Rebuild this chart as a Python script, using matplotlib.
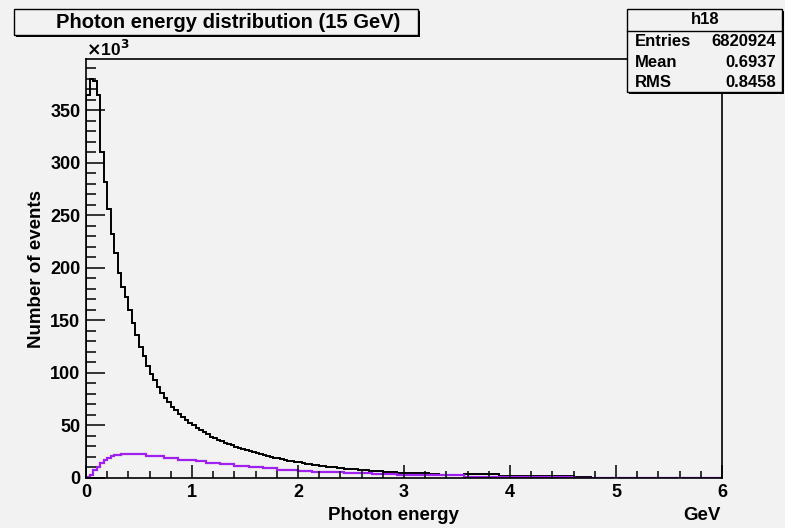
import numpy as np
import matplotlib.pyplot as plt
from matplotlib.patches import Rectangle

plt.rcParams['font.family'] = ['Liberation Sans', 'DejaVu Sans']
plt.rcParams['font.weight'] = 'bold'

# Histogram binning: 180 bins over 0-6 GeV
bin_edges = np.linspace(0, 6, 181)

# Counts per bin in units of 10^3
all_photons = ([365, 380, 378, 365, 310, 282, 256, 232, 214, 195,
                182, 172, 160, 148, 136, 125, 116, 107, 99, 93,
                87, 81, 76, 72, 68, 64.5, 61, 58, 55, 52.5,
                50, 47.5, 45.5, 43.5, 41.5, 39.5, 38, 36.5, 35, 33.6,
                32.3, 31, 29.8, 28.7, 27.6, 26.6, 25.6, 24.6, 23.6, 22.6,
                21.7, 20.8, 20, 19.3, 18.6, 17.9, 17.2, 16.6, 16, 15.4,
                14.8, 14.2, 13.6, 13.1, 12.6, 12.1, 11.7, 11.3, 10.9, 10.5,
                10.1, 9.7, 9.3, 9, 8.7, 8.4, 8.1, 7.8, 7.5, 7.2,
                7, 6.7, 6.5, 6.2, 6, 5.8, 5.6, 5.4, 5.2, 5,
                4.8, 4.7, 4.6, 4.5, 4.4, 4.4, 4.3, 4.2, 4.1, 4.0]
               + [3.2] * 7 + [3.5] * 10 + [1.5] * 21 + [1.0] * 5 + [0.3] * 37)

selected_photons = ([1, 3, 7.6, 10.8, 14.6, 17, 19.3, 21, 21.5, 22]
                    + [22.8] * 7 + [21] * 5 + [19.5] * 4 + [17.5] * 5
                    + [16] * 3 + [14.6] * 4 + [13.3] * 4 + [11.4] * 4
                    + [10.5] * 4 + [9.2] * 4 + [7.6] * 6 + [7] * 4
                    + [6] * 9 + [4.4] * 8 + [3.8] * 7 + [2.8] * 19
                    + [1.2] * 31 + [0.3] * 42)

stats_rows = [('Entries', '6820924'), ('Mean', '0.6937'), ('RMS', '0.8458')]

W, H = 785, 528
bg = '#f2f2f2'


def fx(px):
    return px / W


def fy(py):
    return 1 - py / H


fig = plt.figure(figsize=(W / 100, H / 100), dpi=100, facecolor=bg)
ax = fig.add_axes([fx(86), fy(478), fx(722) - fx(86), fy(59) - fy(478)])
ax.set_facecolor(bg)

ax.stairs(all_photons, bin_edges, color='black', lw=1.4)
ax.stairs(selected_photons, bin_edges, color='#a020f0', lw=1.6)

ax.set_xlim(0, 6)
ax.set_ylim(0, 399)
ax.set_xticks(range(7))
ax.set_xticks(np.arange(0, 6.01, 0.2), minor=True)
ax.set_yticks(range(0, 351, 50))
ax.set_yticks(range(0, 391, 10), minor=True)
ax.tick_params(which='both', direction='in', top=False, right=False,
               labelsize=13, width=1.1)
ax.tick_params(axis='x', which='major', length=9.5, pad=4)
ax.tick_params(axis='x', which='minor', length=4.7)
ax.tick_params(axis='y', which='major', length=13.7, pad=4)
ax.tick_params(axis='y', which='minor', length=7)
for lab in ax.get_xticklabels() + ax.get_yticklabels():
    lab.set_fontweight('bold')
for sp in ax.spines.values():
    sp.set_linewidth(1.2)

# axis titles
fig.text(fx(393), fy(520), 'Photon energy', ha='center', va='baseline',
         fontsize=13.5, fontweight='bold')
fig.text(fx(721), fy(520), 'GeV', ha='right', va='baseline',
         fontsize=13.5, fontweight='bold')
fig.text(fx(37), fy(269), 'Number of events', ha='center', va='center',
         rotation=90, fontsize=13.5, fontweight='bold')
fig.text(fx(86), fy(56), r'$\times$10$^{\mathbf{3}}$', ha='left', va='baseline',
         fontsize=12.5, fontweight='bold')

# title box with shadow
fig.patches.append(Rectangle((fx(16), fy(37)), fx(404), fy(0) - fy(26),
                             transform=fig.transFigure, facecolor='black',
                             edgecolor='black', lw=0))
fig.patches.append(Rectangle((fx(14), fy(35)), fx(404), fy(0) - fy(26),
                             transform=fig.transFigure, facecolor=bg,
                             edgecolor='black', lw=1.0))
fig.text(fx(228), fy(22), 'Photon energy distribution (15 GeV)', ha='center',
         va='center', fontsize=14.5, fontweight='bold')

# stats box with shadow
fig.patches.append(Rectangle((fx(629), fy(94)), fx(155), fy(0) - fy(83),
                             transform=fig.transFigure, facecolor='black',
                             edgecolor='black', lw=0, zorder=5))
fig.patches.append(Rectangle((fx(627), fy(92)), fx(155), fy(0) - fy(83),
                             transform=fig.transFigure, facecolor=bg,
                             edgecolor='black', lw=1.0, zorder=6))
fig.lines.append(plt.Line2D([fx(627), fx(782)], [fy(30.7), fy(30.7)],
                            transform=fig.transFigure, color='black', lw=1.0,
                            zorder=7))
fig.text(fx(705), fy(20), 'h18', ha='center', va='center', fontsize=12,
         fontweight='bold', zorder=8)
for i, (name, val) in enumerate(stats_rows):
    y = fy(41.7 + i * 20.5)
    fig.text(fx(635), y, name, ha='left', va='center', fontsize=12,
             fontweight='bold', zorder=8)
    fig.text(fx(776), y, val, ha='right', va='center', fontsize=12,
             fontweight='bold', zorder=8)

fig.savefig('out.png', dpi=100, facecolor=bg)
